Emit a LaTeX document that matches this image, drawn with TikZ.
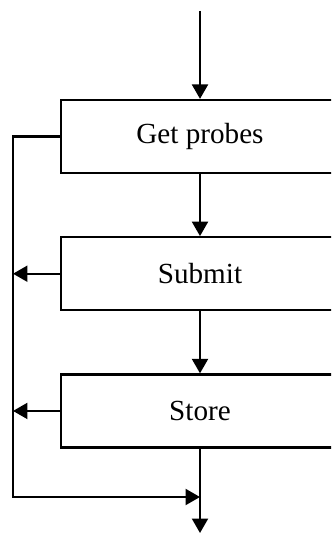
\documentclass[tikz,border=0pt]{standalone}
\usepackage{fontspec}
\setmainfont{Liberation Serif}
\usetikzlibrary{positioning,arrows.meta}
\tikzset{
  stepbox/.style = {
    draw, line width=0.045cm, minimum width=5.56cm, minimum height=1.46cm,
    font=\fontsize{16.6}{20}\selectfont, inner sep=0pt
  },
  flow/.style = {line width=0.045cm}
}
\tikzset{>={Triangle[length=2.9mm,width=3.2mm]}}

\begin{document}
\begin{tikzpicture}[x=0.02cm,y=-0.02cm,flow,node distance=1.24cm]
  \clip (0,0) rectangle (331,533);
  % steps
  \node[stepbox] (probes) at (200,136.5) {Get probes};
  \node[stepbox,below=of probes] (submit) {Submit};
  \node[stepbox,below=of submit] (store) {Store};
  % loose ends
  \coordinate (start) at (200,11);
  \coordinate (rail)  at (13,497);
  \coordinate (join)  at (200,497);
  \coordinate (end)   at (200,533);
  % main flow
  \draw[->] (start)  -- (probes);
  \draw[->] (probes) -- (submit);
  \draw[->] (submit) -- (store);
  \draw[->] (store)  -- (end);
  % side rail
  \draw[->] (probes.west) -- (probes.west -| rail) -- (rail) -- (join);
  \draw[->] (submit.west) -- (submit.west -| rail);
  \draw[->] (store.west)  -- (store.west -| rail);
\end{tikzpicture}
\end{document}
